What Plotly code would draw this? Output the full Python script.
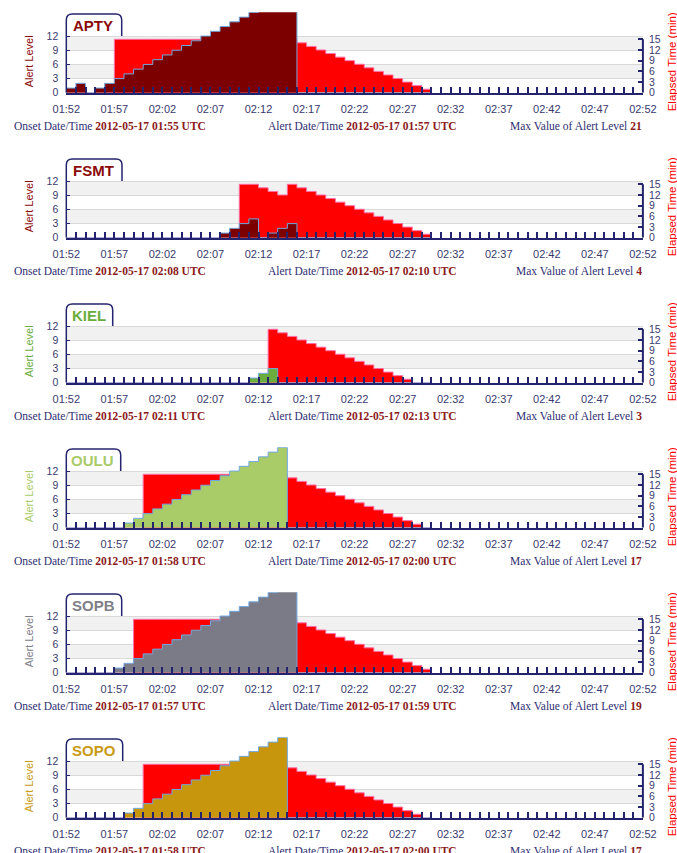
import plotly.graph_objects as go

# ---------------------------------------------------------------------------
# Data: one value per minute, 2012-05-17 01:52 ... 02:30 UTC
# ---------------------------------------------------------------------------
DAY = "2012-05-17"
minutes = ["01:52", "01:53", "01:54", "01:55", "01:56", "01:57", "01:58", "01:59",
           "02:00", "02:01", "02:02", "02:03", "02:04", "02:05", "02:06", "02:07",
           "02:08", "02:09", "02:10", "02:11", "02:12", "02:13", "02:14", "02:15",
           "02:16", "02:17", "02:18", "02:19", "02:20", "02:21", "02:22", "02:23",
           "02:24", "02:25", "02:26", "02:27", "02:28", "02:29", "02:30"]

stations = ["APTY", "FSMT", "KIEL", "OULU", "SOPB", "SOPO"]

# Alert level per minute
apty_level = [1, 2, 0, 1, 2, 3, 4, 5, 6, 7, 8, 9, 10, 11, 12, 13, 14, 15, 16, 17,
              18, 19, 20, 21, 0, 0, 0, 0, 0, 0, 0, 0, 0, 0, 0, 0, 0, 0, 0]
fsmt_level = [0, 0, 0, 0, 0, 0, 0, 0, 0, 0, 0, 0, 0, 0, 0, 0, 1, 2, 3, 4,
              0, 1, 2, 3, 0, 0, 0, 0, 0, 0, 0, 0, 0, 0, 0, 0, 0, 0, 0]
kiel_level = [0, 0, 0, 0, 0, 0, 0, 0, 0, 0, 0, 0, 0, 0, 0, 0, 0, 0, 0, 1,
              2, 3, 0, 0, 0, 0, 0, 0, 0, 0, 0, 0, 0, 0, 0, 0, 0, 0, 0]
oulu_level = [0, 0, 0, 0, 0, 0, 1, 2, 3, 4, 5, 6, 7, 8, 9, 10, 11, 12, 13, 14,
              15, 16, 17, 0, 0, 0, 0, 0, 0, 0, 0, 0, 0, 0, 0, 0, 0, 0, 0]
sopb_level = [0, 0, 0, 0, 0, 1, 2, 3, 4, 5, 6, 7, 8, 9, 10, 11, 12, 13, 14, 15,
              16, 17, 18, 19, 0, 0, 0, 0, 0, 0, 0, 0, 0, 0, 0, 0, 0, 0, 0]
sopo_level = [0, 0, 0, 0, 0, 0, 1, 2, 3, 4, 5, 6, 7, 8, 9, 10, 11, 12, 13, 14,
              15, 16, 17, 0, 0, 0, 0, 0, 0, 0, 0, 0, 0, 0, 0, 0, 0, 0, 0]

# Elapsed time (min) per minute
apty_elapsed = [0, 0, 0, 0, 0, 15, 15, 15, 15, 15, 15, 15, 15, 15, 15, 15, 15, 15, 15, 15,
                15, 15, 15, 15, 14, 13, 12, 11, 10, 9, 8, 7, 6, 5, 4, 3, 2, 1, 0]
fsmt_elapsed = [0, 0, 0, 0, 0, 0, 0, 0, 0, 0, 0, 0, 0, 0, 0, 0, 0, 0, 15, 15,
                14, 13, 12, 15, 14, 13, 12, 11, 10, 9, 8, 7, 6, 5, 4, 3, 2, 1, 0]
kiel_elapsed = [0, 0, 0, 0, 0, 0, 0, 0, 0, 0, 0, 0, 0, 0, 0, 0, 0, 0, 0, 0,
                0, 15, 14, 13, 12, 11, 10, 9, 8, 7, 6, 5, 4, 3, 2, 1, 0, 0, 0]
oulu_elapsed = [0, 0, 0, 0, 0, 0, 0, 0, 15, 15, 15, 15, 15, 15, 15, 15, 15, 15, 15, 15,
                15, 15, 15, 14, 13, 12, 11, 10, 9, 8, 7, 6, 5, 4, 3, 2, 1, 0, 0]
sopb_elapsed = [0, 0, 0, 0, 0, 0, 0, 15, 15, 15, 15, 15, 15, 15, 15, 15, 15, 15, 15, 15,
                15, 15, 15, 15, 14, 13, 12, 11, 10, 9, 8, 7, 6, 5, 4, 3, 2, 1, 0]
sopo_elapsed = [0, 0, 0, 0, 0, 0, 0, 0, 15, 15, 15, 15, 15, 15, 15, 15, 15, 15, 15, 15,
                15, 15, 15, 14, 13, 12, 11, 10, 9, 8, 7, 6, 5, 4, 3, 2, 1, 0, 0]

onset_times = ["01:55", "02:08", "02:11", "01:58", "01:57", "01:58"]
alert_times = ["01:57", "02:10", "02:13", "02:00", "01:59", "02:00"]

level_ticks = [0, 3, 6, 9, 12]
elapsed_ticks = [0, 3, 6, 9, 12, 15]

levels = [apty_level, fsmt_level, kiel_level, oulu_level, sopb_level, sopo_level]
elapsed = [apty_elapsed, fsmt_elapsed, kiel_elapsed, oulu_elapsed, sopb_elapsed, sopo_elapsed]

# ---------------------------------------------------------------------------
# Styling
# ---------------------------------------------------------------------------
W, H = 677, 853
NAVY = "#24246e"
TICK_TXT = "#3a3a6e"
DATE_RED = "#8b1a1a"
station_fill = ["#7c0000", "#7c0000", "#6aad3c", "#a9cb68", "#7b7b87", "#c8960c"]
station_text = ["#8b0a0a", "#8b0a0a", "#6aad3c", "#a9cb68", "#808088", "#c99a14"]
box_width = [55.4, 55.7, 46.4, 54.4, 55.4, 56.4]

X_LEFT, X_RIGHT = 66.3, 642.9          # pixel edges of the time axis
ZERO0, PANEL_STEP = 92.8, 145.0        # pixel row of level 0 in first panel, panel pitch
PX_LEVEL = 4.73                        # pixels per alert level
PX_MIN = 3.567                         # pixels per elapsed minute
LEVEL_TOP = 17.05                      # top of the drawing area in alert levels
ELAPSED_TOP = LEVEL_TOP * PX_LEVEL / PX_MIN


def px(x):
    return x / W


def py(y):
    return 1 - y / H


times = [f"{DAY} {m}" for m in minutes]

fig = go.Figure()
layout = dict(
    width=W, height=H, autosize=False,
    margin=dict(l=0, r=0, t=0, b=0, pad=0, autoexpand=False),
    paper_bgcolor="white", plot_bgcolor="white",
    showlegend=False,
)
shapes, annotations = [], []

for k, name in enumerate(stations):
    zero = ZERO0 + PANEL_STEP * k
    top = zero - LEVEL_TOP * PX_LEVEL
    xid = "" if k == 0 else str(k + 1)
    # base axis: elapsed time (right); overlay axis: alert level (left, drawn on top)
    eid = "" if k == 0 else str(2 * k + 1)
    lid = str(2 * k + 2)

    fig.add_trace(go.Scatter(
        x=times, y=elapsed[k], xaxis="x" + xid, yaxis="y" + eid,
        mode="lines", line=dict(shape="hv", color="#ff6fa8", width=1),
        fill="tozeroy", fillcolor="#ff0000", hoverinfo="skip",
    ))
    fig.add_trace(go.Scatter(
        x=times, y=levels[k], xaxis="x" + xid, yaxis="y" + lid,
        mode="lines", line=dict(shape="hv", color="#6fa9e0", width=1),
        fill="tozeroy", fillcolor=station_fill[k], hoverinfo="skip",
    ))

    layout["xaxis" + xid] = dict(
        domain=[px(X_LEFT), px(X_RIGHT)], anchor="y" + eid, automargin=False,
        type="date",
        range=[f"{DAY} 01:52", f"{DAY} 02:52"],
        tick0=f"{DAY} 01:52", dtick=5 * 60000, tickformat="%H:%M",
        ticks="inside", ticklen=6, tickwidth=1.5, tickcolor=NAVY,
        minor=dict(dtick=60000, ticks="inside", ticklen=6, tickwidth=1.5,
                   tickcolor=NAVY, showgrid=False),
        showgrid=False, zeroline=False,
        showline=True, linecolor=NAVY, linewidth=2,
        tickfont=dict(family="Liberation Sans, Arial", size=11, color=TICK_TXT),
        ticklabelstandoff=5,
        fixedrange=True,
    )
    layout["yaxis" + eid] = dict(
        domain=[py(zero), py(top)], anchor="x" + xid, side="right", automargin=False,
        range=[0, ELAPSED_TOP], tickvals=elapsed_ticks,
        showgrid=False, zeroline=False,
        ticks="inside", ticklen=5, tickwidth=1.5, tickcolor=NAVY,
        tickfont=dict(family="Liberation Sans, Arial", size=10.5, color=TICK_TXT),
        ticklabelstandoff=5, showline=False, fixedrange=True,
    )
    layout["yaxis" + lid] = dict(
        overlaying="y" + eid, side="left", anchor="x" + xid, automargin=False,
        range=[0, LEVEL_TOP], tickvals=level_ticks,
        showgrid=True, gridcolor="#d9d9d9", gridwidth=1, zeroline=False,
        ticks="inside", ticklen=4, tickwidth=1, tickcolor=NAVY,
        tickfont=dict(family="Liberation Sans, Arial", size=10.5, color=TICK_TXT),
        ticklabelstandoff=7, showline=False, fixedrange=True,
    )

    # shaded bands 3-6 and 9-12
    for b0, b1 in [(3, 6), (9, 12)]:
        shapes.append(dict(type="rect", xref="x" + xid + " domain", yref="y" + lid,
                           x0=0, x1=1, y0=b0, y1=b1, fillcolor="#f1f1f1",
                           line=dict(width=0), layer="below"))
    # vertical axis lines
    shapes.append(dict(type="line", xref="paper", yref="y" + lid,
                       x0=px(X_LEFT), x1=px(X_LEFT), y0=0, y1=12,
                       line=dict(color=NAVY, width=1.5), layer="above"))
    shapes.append(dict(type="line", xref="paper", yref="y" + eid,
                       x0=px(X_RIGHT), x1=px(X_RIGHT), y0=0, y1=15,
                       line=dict(color=NAVY, width=2), layer="above"))

    # station name tab
    bx0, bx1 = X_LEFT, X_LEFT + box_width[k]
    by_top, by_bot = zero - 78.8, zero - 12 * PX_LEVEL
    r = 6
    path = (f"M {px(bx0)},{py(by_bot)} L {px(bx0)},{py(by_top + r)} "
            f"Q {px(bx0)},{py(by_top)} {px(bx0 + r)},{py(by_top)} "
            f"L {px(bx1 - r)},{py(by_top)} "
            f"Q {px(bx1)},{py(by_top)} {px(bx1)},{py(by_top + r)} "
            f"L {px(bx1)},{py(by_bot)}")
    shapes.append(dict(type="path", xref="paper", yref="paper", path=path,
                       fillcolor="white", line=dict(color=NAVY, width=1.5),
                       layer="above"))
    annotations.append(dict(
        x=px((bx0 + bx1) / 2 - 1), y=py((by_top + by_bot) / 2 + 0.5),
        xref="paper", yref="paper", xanchor="center", yanchor="middle",
        text=f"<b>{name}</b>", showarrow=False,
        font=dict(family="Liberation Sans, Arial", size=15, color=station_text[k]),
    ))

    # axis titles
    annotations.append(dict(
        x=px(28.5), y=py(zero - 31), xref="paper", yref="paper",
        xanchor="center", yanchor="middle", textangle=-90, showarrow=False,
        text="Alert Level",
        font=dict(family="Liberation Sans, Arial", size=11, color=station_text[k]),
    ))
    annotations.append(dict(
        x=px(671.5), y=py(zero - 31), xref="paper", yref="paper",
        xanchor="center", yanchor="middle", textangle=-90, showarrow=False,
        text="Elapsed Time (min)",
        font=dict(family="Liberation Sans, Arial", size=11.5, color="#ff0000"),
    ))

    # summary line under each panel
    info_font = dict(family="Liberation Serif, Times New Roman", size=11.5, color="#2e2e72")
    row = py(zero + 33)
    annotations.append(dict(
        x=px(12), y=row, xref="paper", yref="paper", xanchor="left", yanchor="middle",
        showarrow=False, font=info_font,
        text=f"Onset Date/Time <b><span style='color:{DATE_RED}'>{DAY} {onset_times[k]} UTC</span></b>",
    ))
    annotations.append(dict(
        x=px(265.5), y=row, xref="paper", yref="paper", xanchor="left", yanchor="middle",
        showarrow=False, font=info_font,
        text=f"Alert Date/Time <b><span style='color:{DATE_RED}'>{DAY} {alert_times[k]} UTC</span></b>",
    ))
    annotations.append(dict(
        x=px(643.5), y=row, xref="paper", yref="paper", xanchor="right", yanchor="middle",
        showarrow=False, font=info_font,
        text=f"Max Value of Alert Level <b><span style='color:{DATE_RED}'>{max(levels[k])}</span></b>",
    ))

layout["shapes"] = shapes
layout["annotations"] = annotations
fig.update_layout(**layout)
fig.write_html("out.html")
